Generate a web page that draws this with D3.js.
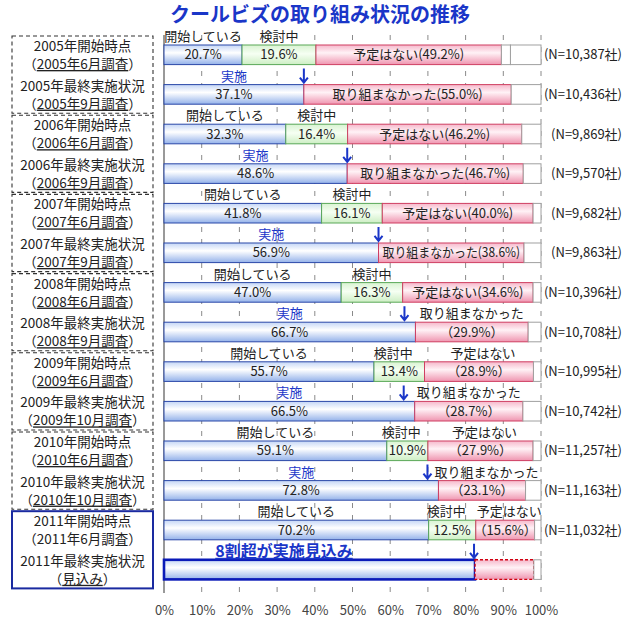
<!DOCTYPE html>
<html lang="ja">
<head>
<meta charset="utf-8">
<title>クールビズの取り組み状況の推移</title>
<script src="https://d3js.org/d3.v7.min.js"></script>
<style>
body{margin:0;background:#fff;font-family:"Noto Sans CJK JP","Noto Sans",sans-serif;}
text{fill:#222;}
</style>
</head>
<body>
<div id="chart"></div>
<script>
// rows: start-of-season survey / final result, per year
var rowTitles = ["2005年開始時点","2005年最終実施状況","2006年開始時点","2006年最終実施状況",
                 "2007年開始時点","2007年最終実施状況","2008年開始時点","2008年最終実施状況",
                 "2009年開始時点","2009年最終実施状況","2010年開始時点","2010年最終実施状況",
                 "2011年開始時点","2011年最終実施状況"]
var rowSurveys = ["2005年6月調査","2005年9月調査","2006年6月調査","2006年9月調査",
                  "2007年6月調査","2007年9月調査","2008年6月調査","2008年9月調査",
                  "2009年6月調査","2009年10月調査","2010年6月調査","2010年10月調査",
                  "2011年6月調査","見込み"]
var started     = [20.7, 37.1, 32.3, 48.6, 41.8, 56.9, 47.0, 66.7, 55.7, 66.5, 59.1, 72.8, 70.2, 82.5]
var considering = [19.6, null, 16.4, null, 16.1, null, 16.3, null, 13.4, null, 10.9, null, 12.5, null]
var notDoing    = [49.2, 55.0, 46.2, 46.7, 40.0, 38.6, 34.6, 29.9, 28.9, 28.7, 27.9, 23.1, 15.6, 15.6]
var otherPart   = [2.4, 0, 0, 0, 0, 0, 0, 0, 0, 0, 0, 0, 0, 0]
var nCounts = ["10,387","10,436","9,869","9,570","9,682","9,863","10,396",
               "10,708","10,995","10,742","11,257","11,163","11,032",null]
var xTicks = [0,10,20,30,40,50,60,70,80,90,100]

var w = 627
var h = 620
var blue = "#1a36c8"

var svg = d3.select("#chart").append("svg").attr("width",w).attr("height",h)

var xScale = d3.scaleLinear().domain([0,100]).range([164,541])
var yScale = d3.scaleBand().domain(d3.range(rowTitles.length))
               .range([35,589.4]).paddingInner(0.505).paddingOuter(0.2525)
var barH = yScale.bandwidth()

// gradients
var defs = svg.append("defs")
function grad(id, stops){
    var g = defs.append("linearGradient").attr("id",id)
        .attr("x1",0).attr("y1",0).attr("x2",0).attr("y2",1)
    stops.forEach(function(s){
        g.append("stop").attr("offset",s[0]).attr("stop-color",s[1])
    })
}
grad("gBlue",[["0%","#c4d6f6"],["40%","#ffffff"],["100%","#94b2ea"]])
grad("gGreen",[["0%","#d9f3d2"],["45%","#f6fff3"],["100%","#cdeec4"]])
grad("gPink",[["0%","#f6b8cb"],["40%","#fff2f6"],["100%","#ef95b0"]])

var styles = {
    blue:  {fill:"url(#gBlue)", stroke:"#2b48a8", sw:1, dash:null},
    green: {fill:"url(#gGreen)", stroke:"#5aa858", sw:1, dash:null},
    pink:  {fill:"url(#gPink)", stroke:"#cf3f62", sw:1, dash:null},
    white: {fill:"#ffffff", stroke:"#a0a0a0", sw:1, dash:null},
    blueBold: {fill:"url(#gBlue)", stroke:"#0a1ab8", sw:2.6, dash:null},
    pinkDash: {fill:"url(#gPink)", stroke:"#d00010", sw:1.4, dash:"3,2"}
}

// title
svg.append("text")
    .attr("x",320).attr("y",22)
    .attr("text-anchor","middle")
    .style("font-size","20px").style("font-weight","bold")
    .style("fill",blue)
    .text("クールビズの取り組み状況の推移")

// gridlines
svg.selectAll("line.grid")
    .data(xTicks.slice(1))
    .enter()
    .append("line")
    .attr("class","grid")
    .attr("x1",function(d){ return xScale(d) })
    .attr("x2",function(d){ return xScale(d) })
    .attr("y1",35).attr("y2",593)
    .attr("stroke","#8a8a8a")
    .attr("stroke-width",1)
    .attr("stroke-dasharray","5,7")

svg.append("line")
    .attr("x1",xScale(0)).attr("x2",xScale(0))
    .attr("y1",35).attr("y2",593)
    .attr("stroke","#555").attr("stroke-width",1.2)

// segments
var segs = []
started.forEach(function(v,i){
    var last = (i == started.length-1)
    var acc = 0
    segs.push({row:i, x0:acc, v:v, type: last ? "blueBold" : "blue"}); acc += v
    if(considering[i] != null){ segs.push({row:i, x0:acc, v:considering[i], type:"green"}); acc += considering[i] }
    segs.push({row:i, x0:acc, v:notDoing[i], type: last ? "pinkDash" : "pink"}); acc += notDoing[i]
    if(otherPart[i] > 0){ segs.push({row:i, x0:acc, v:otherPart[i], type:"white"}); acc += otherPart[i] }
    if(100-acc > 0.05){ segs.push({row:i, x0:acc, v:100-acc, type:"white"}) }
})

svg.selectAll("rect.seg")
    .data(segs)
    .enter()
    .append("rect")
    .attr("class","seg")
    .attr("x",function(d){ return xScale(d.x0) })
    .attr("y",function(d){ return yScale(d.row) })
    .attr("width",function(d){ return xScale(d.x0+d.v)-xScale(d.x0) })
    .attr("height",barH)
    .attr("fill",function(d){ return styles[d.type].fill })
    .attr("stroke",function(d){ return styles[d.type].stroke })
    .attr("stroke-width",function(d){ return styles[d.type].sw })
    .attr("stroke-dasharray",function(d){ return styles[d.type].dash })

// texts on / above bars
var fs = "13px"
function label(x, y, txt, color, anchor){
    return svg.append("text")
        .attr("x",x).attr("y",y)
        .attr("text-anchor",anchor || "middle")
        .style("font-size",fs)
        .style("fill",color || "#222")
        .text(txt)
}
function fitInside(t, width){
    var len = t.node().getComputedTextLength()
    if(len > width){
        t.attr("textLength",width).attr("lengthAdjust","spacingAndGlyphs")
    }
}
function arrow(x, top){
    svg.append("path")
        .attr("d","M"+x+","+(top-16)+"L"+x+","+(top-2)+"M"+(x-4)+","+(top-7)+"L"+x+","+(top-2)+"L"+(x+4)+","+(top-7))
        .attr("fill","none").attr("stroke",blue).attr("stroke-width",2)
}

started.forEach(function(v,i){
    var top = yScale(i)
    var mid = top + barH/2 + 4.5
    var above = top - 4
    var isStart = (i % 2 == 0)
    var last = (i == started.length-1)
    var bEnd = xScale(v)
    var c0 = (xScale(0)+bEnd)/2

    if(last){
        svg.append("text")
            .attr("x",xScale(13.6)).attr("y",top-3)
            .style("font-size","16px").style("font-weight","bold")
            .style("fill",blue).style("text-decoration","underline")
            .text("8割超が実施見込み")
        arrow(bEnd-1, top)
        return
    }

    label(c0, mid, v.toFixed(1)+"%")

    var p0 = v + (considering[i] != null ? considering[i] : 0)
    var pL = xScale(p0), pR = xScale(p0+notDoing[i])
    var pc = (pL+pR)/2
    var pinkWord = isStart ? "予定はない" : "取り組まなかった"
    var pinkAbove = notDoing[i] < 32
    var pinkLabelX = pc

    if(isStart){
        label(c0, above, "開始している")
        var gL = xScale(v), gR = xScale(p0)
        var gc = (gL+gR)/2
        label(pinkAbove ? gc-6 : gc, above, "検討中")
        var gt = label(gc, mid, considering[i].toFixed(1)+"%")
        fitInside(gt, gR-gL-3)
        if(pinkAbove) pinkLabelX = pc+4
    } else {
        label(c0, above, "実施", blue)
        var ax = pinkAbove ? bEnd-11 : bEnd
        arrow(ax, top)
        if(pinkAbove) pinkLabelX = Math.max(pc, ax+59)
    }

    if(pinkAbove){
        label(pinkLabelX, above, pinkWord)
        label(pc, mid, "（"+notDoing[i].toFixed(1)+"%）")
    } else {
        var pt = label(pc, mid, pinkWord+"("+notDoing[i].toFixed(1)+"%)")
        fitInside(pt, pR-pL-8)
    }

    if(nCounts[i] != null){
        label(622, mid, "(N="+nCounts[i]+"社)", "#222", "end")
    }
})

// left row boxes
d3.range(rowTitles.length/2).forEach(function(k){
    var r0 = 2*k, r1 = 2*k+1
    var last = (k == rowTitles.length/2-1)
    svg.append("rect")
        .attr("x",12).attr("y",yScale(r0)-9)
        .attr("width",141)
        .attr("height",yScale(r1)+barH+9-(yScale(r0)-9))
        .attr("fill","none")
        .attr("stroke",last ? "#1a2aa0" : "#333")
        .attr("stroke-width",last ? 2 : 1.1)
        .attr("stroke-dasharray",last ? null : "4,3")
})

rowTitles.forEach(function(t,i){
    var top = yScale(i)
    svg.append("text")
        .attr("x",82.5).attr("y",top+6)
        .attr("text-anchor","middle")
        .style("font-size","13.5px")
        .text(t)
    var t2 = svg.append("text")
        .attr("x",82.5).attr("y",top+24)
        .attr("text-anchor","middle")
        .style("font-size","13.5px")
    t2.append("tspan").text("（")
    t2.append("tspan")
        .style("text-decoration", i == 12 ? "none" : "underline")
        .text(rowSurveys[i])
    t2.append("tspan").text("）")
})

// x axis labels
var axis = svg.append("g")
    .attr("transform","translate(0,603)")
    .call(d3.axisBottom(xScale).tickValues(xTicks).tickSize(0)
          .tickFormat(function(d){ return d+"%" }))
axis.select(".domain").remove()
axis.selectAll("text")
    .style("font-size","13px")
    .style("font-family","'Noto Sans CJK JP',sans-serif")
    .style("fill","#444")
</script>
</body>
</html>
